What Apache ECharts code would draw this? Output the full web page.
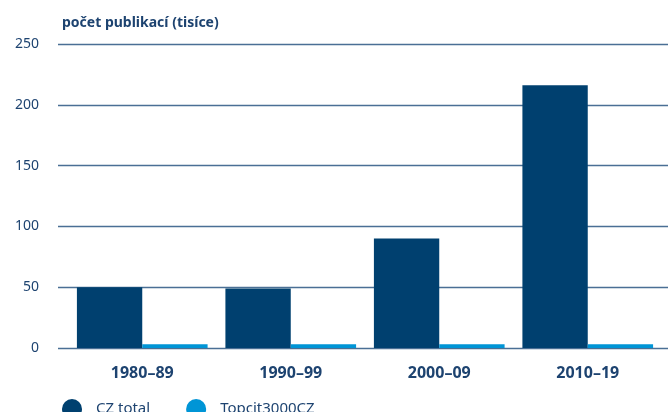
<!DOCTYPE html>
<html>
<head>
<meta charset="utf-8">
<script src="https://cdn.jsdelivr.net/npm/echarts@6/dist/echarts.min.js"></script>
<style>
  html, body { margin: 0; padding: 0; background: #ffffff; }
  #chart { width: 668px; height: 412px; }
</style>
</head>
<body>
<div id="chart"></div>
<script>
// Decades on the category axis
const decades = ['1980–89', '1990–99', '2000–09', '2010–19'];
// Number of publications (thousands)
const czTotal = [50, 49, 90, 216];
const topcit3000CZ = [3, 3, 3, 3];
// Value axis ticks
const yTicks = [0, 50, 100, 150, 200, 250];

const textColor = '#1d4370';
const gridColor = '#4a6f95';
const fontFamily = '"Noto Sans", "Open Sans", sans-serif';

const chart = echarts.init(document.getElementById('chart'));

chart.setOption({
  animation: false,
  textStyle: { fontFamily: fontFamily },
  title: {
    text: 'počet publikací (tisíce)',
    left: 57,
    top: 11,
    textStyle: { fontSize: 14, fontWeight: 'bold', color: textColor, fontFamily: fontFamily }
  },
  legend: {
    data: ['CZ total', 'Topcit3000CZ'],
    left: 57,
    top: 394,
    icon: 'circle',
    itemWidth: 20,
    itemHeight: 20,
    itemGap: 36,
    textStyle: { fontSize: 15, color: textColor, padding: [0, 0, 0, 9] }
  },
  grid: [
    // Grid carrying the value gridlines and tick labels
    { left: 58, right: 0, top: 44, bottom: 64 },
    // Grid carrying the bars
    { left: 68, right: 6, top: 44, bottom: 64 }
  ],
  xAxis: [
    {
      type: 'category',
      gridIndex: 0,
      data: decades,
      show: false
    },
    {
      type: 'category',
      gridIndex: 1,
      data: decades,
      axisLine: { show: false },
      axisTick: { show: false },
      axisLabel: {
        color: textColor,
        fontSize: 16,
        fontWeight: 'bold',
        margin: 17
      }
    }
  ],
  yAxis: [
    {
      type: 'value',
      gridIndex: 0,
      min: yTicks[0],
      max: yTicks[yTicks.length - 1],
      interval: 50,
      axisLine: { show: false },
      axisTick: { show: false },
      axisLabel: { color: textColor, fontSize: 14, margin: 19 },
      splitLine: { lineStyle: { color: gridColor, width: 1.3 } }
    },
    {
      type: 'value',
      gridIndex: 1,
      min: yTicks[0],
      max: yTicks[yTicks.length - 1],
      interval: 50,
      show: false,
      splitLine: { show: false }
    }
  ],
  series: [
    {
      name: 'CZ total',
      type: 'bar',
      xAxisIndex: 1,
      yAxisIndex: 1,
      data: czTotal,
      barGap: '0%',
      barCategoryGap: '12%',
      itemStyle: { color: '#00406f' }
    },
    {
      name: 'Topcit3000CZ',
      type: 'bar',
      xAxisIndex: 1,
      yAxisIndex: 1,
      data: topcit3000CZ,
      barGap: '0%',
      barCategoryGap: '12%',
      itemStyle: { color: '#0095d6' }
    }
  ]
});
</script>
</body>
</html>
